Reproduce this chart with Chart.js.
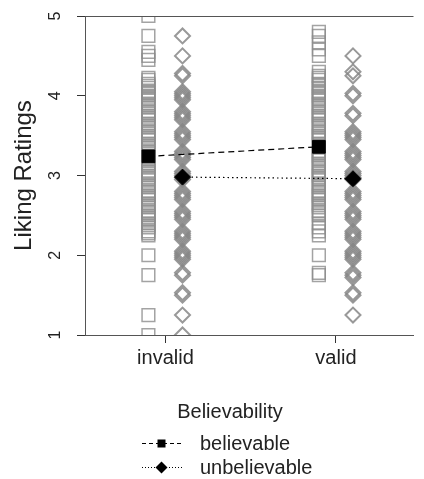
<!DOCTYPE html>
<html>
<head>
<meta charset="utf-8">
<script src="https://cdn.jsdelivr.net/npm/chart.js@4.4.1/dist/chart.umd.min.js"></script>
<style>
  html, body { margin: 0; padding: 0; background: #fff; }
  canvas { display: block; }
</style>
</head>
<body>
<canvas id="chart1" width="424" height="479"></canvas>
<script>
// Categorias e valores
var categories = ['invalid', 'valid'];
var yTicks = [1, 2, 3, 4, 5];

// Médias (marcadores pretos)
var believableMeans = [3.24, 3.36];
var unbelievableMeans = [2.98, 2.96];

// Respostas individuais (quadrados cinza)
var believableInvalid = [5.0, 4.75, 4.55, 4.5, 4.45,
  4.225, 4.2, 4.15, 4.125, 4.1, 4.05, 4.025, 4.0,
  3.975, 3.95, 3.9, 3.875, 3.85, 3.8, 3.775, 3.75,
  3.725, 3.7, 3.65, 3.625, 3.6, 3.55, 3.525, 3.5,
  3.475, 3.45, 3.4, 3.375, 3.35, 3.3, 3.275, 3.25,
  3.225, 3.2, 3.15, 3.125, 3.1, 3.05, 3.025, 3.0,
  2.975, 2.95, 2.9, 2.875, 2.85, 2.8, 2.775, 2.75,
  2.725, 2.7, 2.65, 2.625, 2.6, 2.55, 2.525, 2.5,
  2.475, 2.45, 2.4, 2.375, 2.35, 2.3, 2.275, 2.25,
  2.0, 1.75, 1.25, 1.0];
var believableValid = [4.8, 4.75, 4.67, 4.58, 4.5,
  4.3, 4.25,
  4.225, 4.2, 4.15, 4.125, 4.1, 4.05, 4.025, 4.0,
  3.975, 3.95, 3.9, 3.875, 3.85, 3.8, 3.775, 3.75,
  3.725, 3.7, 3.65, 3.625, 3.6, 3.55, 3.525, 3.5,
  3.475, 3.45, 3.4, 3.375, 3.35, 3.3, 3.275, 3.25,
  3.225, 3.2, 3.15, 3.125, 3.1, 3.05, 3.025, 3.0,
  2.975, 2.95, 2.9, 2.875, 2.85, 2.8, 2.775, 2.75,
  2.725, 2.7, 2.65, 2.625, 2.6, 2.55, 2.525, 2.5,
  2.4, 2.35, 2.3, 2.25,
  2.0, 1.78, 1.75];

// Respostas individuais (losangos cinza)
var unbelievableInvalid = [4.75, 4.5, 4.28, 4.25,
  4.05, 4.025, 4.0, 3.975, 3.95,
  3.8, 3.775, 3.75, 3.725, 3.7,
  3.55, 3.525, 3.5, 3.475, 3.45,
  3.3, 3.275, 3.25, 3.225, 3.2,
  3.05, 3.025, 3.0, 2.975, 2.95,
  2.8, 2.775, 2.75, 2.725, 2.7,
  2.55, 2.525, 2.5, 2.475, 2.45,
  2.3, 2.275, 2.25, 2.225, 2.2,
  2.05, 2.025, 2.0, 1.975, 1.95,
  1.78, 1.75, 1.53, 1.5, 1.25, 1.0];
var unbelievableValid = [4.5, 4.3, 4.25, 4.03, 4.0, 3.78, 3.75,
  3.55, 3.525, 3.5, 3.475, 3.45,
  3.3, 3.275, 3.25, 3.225, 3.2,
  3.05, 3.025, 3.0, 2.975, 2.95,
  2.8, 2.775, 2.75, 2.725, 2.7,
  2.55, 2.525, 2.5, 2.475, 2.45,
  2.3, 2.275, 2.25, 2.225, 2.2,
  2.05, 2.025, 2.0, 1.975, 1.95,
  1.78, 1.75, 1.72, 1.53, 1.5, 1.25];

var FONT = "'Liberation Sans', Arial, sans-serif";
var dodge = 0.1;          // deslocamento horizontal entre os dois grupos
var rawColor = 'rgba(140,140,140,0.8)';

function points(values, x) {
    return values.map(function (v) { return { x: x, y: v }; });
}
function means(values, shift) {
    return values.map(function (v, i) { return { x: i + 1 + shift, y: v }; });
}

// Desenha textos extra: rótulos do eixo Y, título e legenda
var extras = {
    id: 'extras',
    afterDraw: function (chart) {
        var ctx = chart.ctx, area = chart.chartArea, ys = chart.scales.y;
        ctx.save();
        ctx.strokeStyle = '#555';
        ctx.lineWidth = 1;
        ctx.beginPath();
        ctx.moveTo(area.left, area.top + 0.5);
        ctx.lineTo(area.right, area.top + 0.5);
        ctx.stroke();

        ctx.fillStyle = '#222';
        ctx.textAlign = 'center';
        ctx.textBaseline = 'middle';
        ctx.font = '16px ' + FONT;
        yTicks.forEach(function (t) {
            ctx.save();
            ctx.translate(56, ys.getPixelForValue(t));
            ctx.rotate(-Math.PI / 2);
            ctx.fillText(String(t), 0, 0);
            ctx.restore();
        });

        ctx.save();
        ctx.translate(24, (area.top + area.bottom) / 2);
        ctx.rotate(-Math.PI / 2);
        ctx.font = '24px ' + FONT;
        ctx.fillText('Liking Ratings', 0, 0);
        ctx.restore();

        // legenda
        ctx.font = '20px ' + FONT;
        ctx.textBaseline = 'alphabetic';
        ctx.fillText('Believability', 230, 418);
        ctx.textAlign = 'left';
        ctx.fillText('believable', 200, 450);
        ctx.fillText('unbelievable', 200, 474);

        ctx.strokeStyle = '#000';
        ctx.lineWidth = 1;
        ctx.setLineDash([4, 3]);
        ctx.beginPath(); ctx.moveTo(142, 443.5); ctx.lineTo(182, 443.5); ctx.stroke();
        ctx.setLineDash([1, 2]);
        ctx.beginPath(); ctx.moveTo(142, 467.5); ctx.lineTo(182, 467.5); ctx.stroke();
        ctx.setLineDash([]);
        ctx.fillStyle = '#000';
        ctx.fillRect(157.5, 439.5, 8, 8);
        ctx.beginPath();
        ctx.moveTo(161.5, 461.5); ctx.lineTo(167.5, 467.5); ctx.lineTo(161.5, 473.5); ctx.lineTo(155.5, 467.5);
        ctx.closePath(); ctx.fill();
        ctx.restore();
    }
};

var ctx = document.getElementById('chart1').getContext('2d');
var chart = new Chart(ctx, {
    type: 'scatter',
    data: {
        datasets: [{
            label: 'believable',
            data: means(believableMeans, -dodge),
            showLine: true,
            borderColor: '#000',
            borderWidth: 1.2,
            borderDash: [6, 4],
            pointStyle: 'rect',
            pointRadius: 9,
            pointBackgroundColor: '#000',
            pointBorderColor: '#000',
            pointBorderWidth: 1
        }, {
            label: 'unbelievable',
            data: means(unbelievableMeans, dodge),
            showLine: true,
            borderColor: '#000',
            borderWidth: 1.2,
            borderDash: [1.5, 3],
            pointStyle: 'rectRot',
            pointRadius: 8,
            pointBackgroundColor: '#000',
            pointBorderColor: '#000',
            pointBorderWidth: 1
        }, {
            label: 'believable raw',
            data: points(believableInvalid, 1 - dodge).concat(points(believableValid, 2 - dodge)),
            pointStyle: 'rect',
            pointRadius: 9,
            pointBackgroundColor: 'rgba(0,0,0,0)',
            pointBorderColor: rawColor,
            pointBorderWidth: 1.5,
            clip: 0
        }, {
            label: 'unbelievable raw',
            data: points(unbelievableInvalid, 1 + dodge).concat(points(unbelievableValid, 2 + dodge)),
            pointStyle: 'rectRot',
            pointRadius: 7.5,
            pointBackgroundColor: 'rgba(0,0,0,0)',
            pointBorderColor: 'rgba(135,135,135,0.85)',
            pointBorderWidth: 2,
            clip: 0
        }]
    },
    options: {
        responsive: false,
        animation: false,
        devicePixelRatio: 1,
        layout: { padding: { top: 16, left: 0, right: 0, bottom: 0 } },
        plugins: {
            legend: { display: false },
            tooltip: { enabled: false }
        },
        scales: {
            x: {
                type: 'linear',
                min: 0.528,
                max: 2.455,
                afterBuildTicks: function (s) {
                    s.ticks = categories.map(function (c, i) { return { value: i + 1 }; });
                },
                afterFit: function (s) { s.height = 144; },
                ticks: {
                    callback: function (v) { return categories[v - 1]; },
                    font: { family: FONT, size: 20 },
                    color: '#222',
                    padding: 3,
                    maxRotation: 0,
                    autoSkip: false
                },
                grid: { drawOnChartArea: false, drawTicks: true, tickLength: 8, color: '#333' },
                border: { display: true, color: '#555' }
            },
            y: {
                type: 'linear',
                min: 1,
                max: 5,
                afterBuildTicks: function (s) {
                    s.ticks = yTicks.map(function (t) { return { value: t }; });
                },
                afterFit: function (s) { s.width = 85; },
                ticks: { color: 'rgba(0,0,0,0)' },
                grid: { drawOnChartArea: false, drawTicks: true, tickLength: 8, color: '#333' },
                border: { display: true, color: '#555' }
            }
        }
    },
    plugins: [extras]
});
</script>
</body>
</html>
